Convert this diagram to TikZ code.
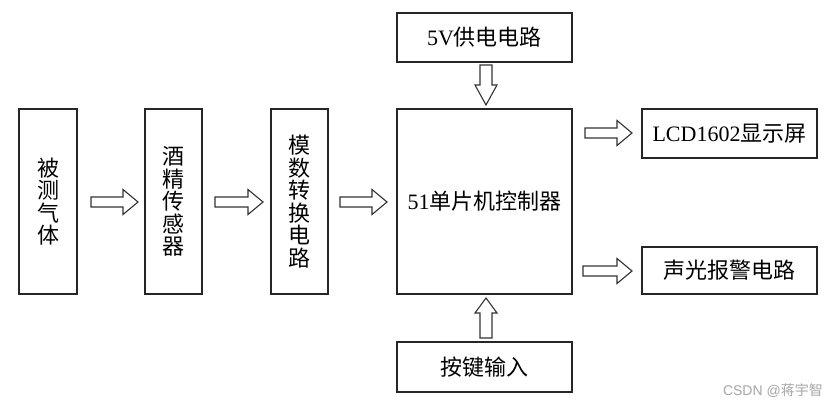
\documentclass[tikz,border=0pt]{standalone}
\usepackage{fontspec}
\setmainfont{Liberation Serif}
\newfontfamily\cjk{Noto Sans CJK SC}
\newfontfamily\wmfont{Liberation Sans}
\begin{document}
\begin{tikzpicture}[x=1pt,y=-1pt,
  box/.style={draw=black!85,line width=1.3pt,inner sep=0pt,font=\fontsize{22}{22.5}\selectfont,align=center},
  blk/.style={draw=black!80,line width=1.1pt,fill=white,line join=miter}]
\useasboundingbox (0,0) rectangle (839,406);
\fill[white] (0,0) rectangle (839,406);
% nodes
\node[box,minimum width=58pt,minimum height=185pt] (gas) at (48,201.5) {\cjk 被\\\cjk 测\\\cjk 气\\\cjk 体};
\node[box,minimum width=57pt,minimum height=185pt] (sen) at (173.5,201.5) {\cjk 酒\\\cjk 精\\\cjk 传\\\cjk 感\\\cjk 器};
\node[box,minimum width=57pt,minimum height=185pt] (adc) at (299.5,201.5) {\cjk 模\\\cjk 数\\\cjk 转\\\cjk 换\\\cjk 电\\\cjk 路};
\node[box,minimum width=175pt,minimum height=185pt] (mcu) at (484.5,201.5) {51{\cjk 单片机控制器}};
\node[box,minimum width=175pt,minimum height=49pt] (pwr) at (484.5,37.5) {5V{\cjk 供电电路}};
\node[box,minimum width=175pt,minimum height=50pt] (key) at (484.5,367) {\cjk 按键输入};
\node[box,minimum width=175pt,minimum height=49pt] (lcd) at (729.5,133.5) {LCD1602{\cjk 显示屏}};
\node[box,minimum width=175pt,minimum height=47pt] (alm) at (729.5,270.5) {\cjk 声光报警电路};
% horizontal block arrows: (x1,x2,y)
\foreach \a/\b/\y in {91/138/202, 215/263/202, 340/387/202, 585/632/133, 583/632/271}{
  \draw[blk] (\a,\y-5) -- (\b-15,\y-5) -- (\b-15,\y-12.5) -- (\b,\y) -- (\b-15,\y+12.5) -- (\b-15,\y+5) -- (\a,\y+5) -- cycle;
}
% down arrow from pwr to mcu
\draw[blk] (480,65) -- (492,65) -- (492,85) -- (497,85) -- (486,105) -- (475,85) -- (480,85) -- cycle;
% up arrow from key to mcu
\draw[blk] (480,338) -- (492,338) -- (492,313) -- (497,313) -- (486,298) -- (475,313) -- (480,313) -- cycle;
\node[text=black!35,font=\wmfont\fontsize{14}{16}\selectfont,anchor=east,inner sep=0pt] (wm) at (823,391) {CSDN @{\cjk 蒋宇智}};
\end{tikzpicture}
\end{document}
